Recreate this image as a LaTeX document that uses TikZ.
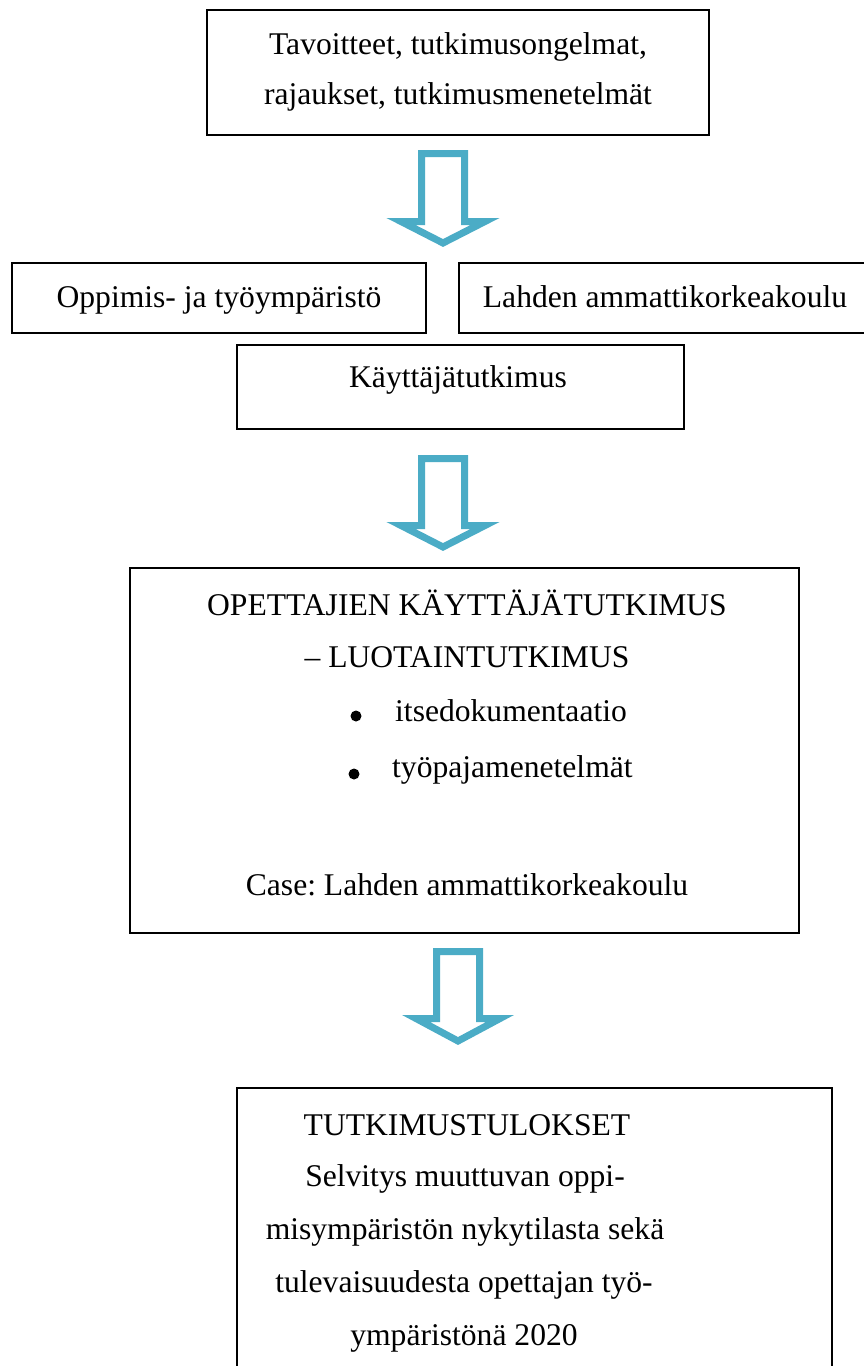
\documentclass[tikz,border=0pt]{standalone}
\usepackage{fontspec}
\setmainfont{Liberation Serif}
\definecolor{arrowblue}{HTML}{4BACC6}
\begin{document}
\frenchspacing
\begin{tikzpicture}[x=1pt,y=-1pt,
  box/.style={draw=black,line width=1.6pt,fill=none},
  txt/.style={anchor=base,inner sep=0pt,font=\fontsize{31.6}{36}\selectfont},
  dot/.style={circle,fill=black,inner sep=0pt,minimum size=11pt},
  blockarrow/.style={draw=arrowblue,line width=7pt,line join=miter,fill=white}]
\useasboundingbox (0,0) rectangle (864,1366);
% boxes
\draw[box] (207,10) rectangle (709,135);
\draw[box] (12,263) rectangle (426,333);
\draw[box] (459,263) rectangle (880,333);
\draw[box] (237,345) rectangle (684,429);
\draw[box] (130,568) rectangle (799,933);
\draw[box] (237,1088) rectangle (832,1400);
% block arrows
\foreach \cx/\top/\hb/\tip in {443/153.5/221.5/243, 443/458.5/525.5/547, 458/951.5/1018.5/1041}{
  \draw[blockarrow] (\cx-21.5,\top) -- (\cx+21.5,\top) -- (\cx+21.5,\hb) -- (\cx+42,\hb)
    -- (\cx,\tip) -- (\cx-42,\hb) -- (\cx-21.5,\hb) -- cycle;
}
% texts
\node[txt] (t1a) at (458,54) {Tavoitteet, tutkimusongelmat,};
\node[txt] (t1b) at (458,104) {rajaukset, tutkimusmenetelmät};
\node[txt] (t2) at (219,307) {Oppimis- ja työympäristö};
\node[txt] (t3) at (665,307) {Lahden ammattikorkeakoulu};
\node[txt] (t4) at (458,387) {Käyttäjätutkimus};
\node[txt] (t5a) at (467,615) {OPETTAJIEN KÄYTTÄJÄTUTKIMUS};
\node[txt] (t5b) at (467,667) {– LUOTAINTUTKIMUS};
\node[dot] (b1) at (356,716) {};
\node[txt,anchor=base west] (t5c) at (395,721) {itsedokumentaatio};
\node[dot] (b2) at (354,774) {};
\node[txt,anchor=base west] (t5d) at (392,777) {työpajamenetelmät};
\node[txt] (t5e) at (467,895) {Case: Lahden ammattikorkeakoulu};
\node[txt] (t6a) at (467,1135) {TUTKIMUSTULOKSET};
\node[txt] (t6b) at (465,1186) {Selvitys muuttuvan oppi-};
\node[txt] (t6c) at (465,1239) {misympäristön nykytilasta sekä};
\node[txt] (t6d) at (464,1292) {tulevaisuudesta opettajan työ-};
\node[txt] (t6e) at (464,1345) {ympäristönä 2020};
\end{tikzpicture}
\end{document}
